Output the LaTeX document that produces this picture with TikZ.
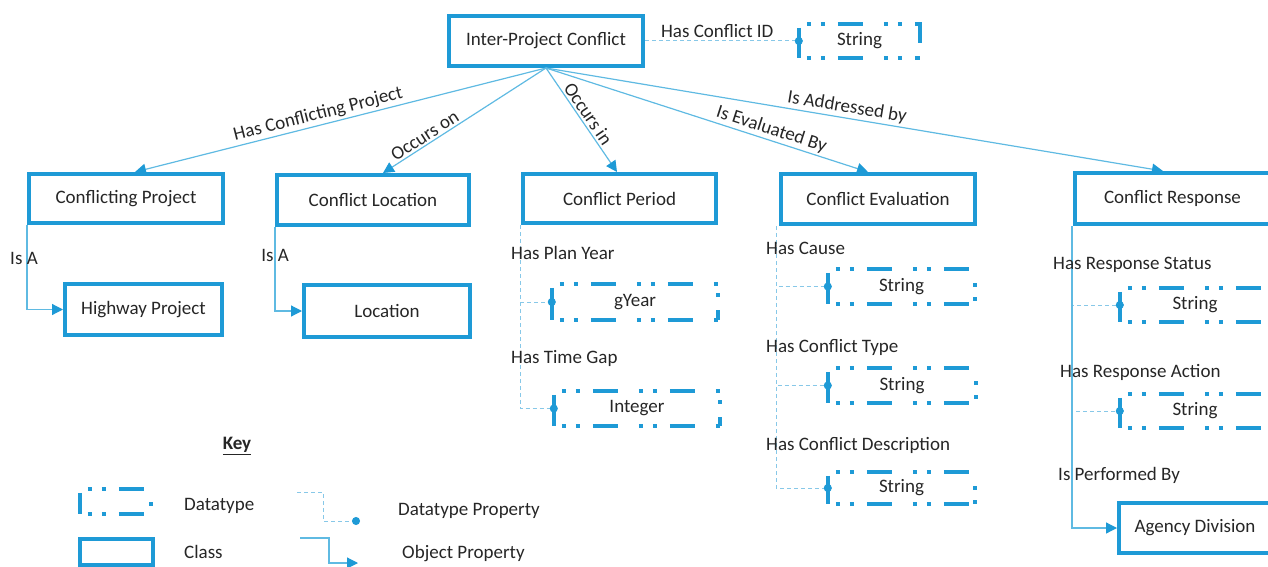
\documentclass[tikz,border=0pt]{standalone}
\usepackage{fontspec}
\setmainfont{Carlito}
\usetikzlibrary{arrows.meta,calc}
\definecolor{ontoblue}{RGB}{30,154,214}
\definecolor{linkblue}{RGB}{95,186,226}
\definecolor{dlinkblue}{RGB}{135,200,232}
\definecolor{inktext}{RGB}{38,38,38}

% dash-dot-dot frame of a datatype node, with the solid bar on its left side
\newcommand\dtframe[1]{%
  \draw[dtdash] ($(#1.north west)+(8,0)$) -- (#1.north east) -- (#1.south east);
  \draw[dtdash] ($(#1.south west)+(8,0)$) -- (#1.south east);
  \draw[dtbar] ($(#1.north west)+(0,4)$) -- (#1.south west);
}

\begin{document}
\begin{tikzpicture}[x=1pt,y=-1pt,
  every node/.style={font=\fontsize{19}{22}\selectfont, text=inktext},
  classbox/.style={draw=ontoblue, line width=4pt, rectangle, inner sep=0pt},
  dtbox/.style={rectangle, inner sep=0pt},
  dtdash/.style={draw=ontoblue, line width=4pt,
    dash pattern=on 4pt off 10pt on 4pt off 13pt on 25pt off 21pt},
  dtbar/.style={draw=ontoblue, line width=4.5pt},
  objprop/.style={draw=linkblue, line width=1.2pt,
    -{Triangle[length=11pt,width=11pt,color=ontoblue]}},
  dprop/.style={draw=dlinkblue, line width=1pt, dash pattern=on 4pt off 3pt,
    -{Circle[length=8pt,color=ontoblue]}, shorten >=-4pt},
  elabel/.style={sloped, above, inner sep=2pt},
  plabel/.style={anchor=west, inner sep=0pt},
]
\useasboundingbox (0,0) rectangle (1268,567);

% ---- classes
\node[classbox, minimum width=194pt, minimum height=50pt] (ipc) at (546,41) {Inter-Project Conflict};
\node[classbox, minimum width=194pt, minimum height=49pt] (cp) at (126,198.5) {Conflicting Project};
\node[classbox, minimum width=192pt, minimum height=50pt] (cl) at (373,200) {Conflict Location};
\node[classbox, minimum width=193pt, minimum height=49pt] (per) at (619.5,198.5) {Conflict Period};
\node[classbox, minimum width=194pt, minimum height=50pt] (eval) at (878,199) {Conflict Evaluation};
\node[classbox, minimum width=195pt, minimum height=51pt] (resp) at (1172.5,198.5) {Conflict Response};
\node[classbox, minimum width=157pt, minimum height=51pt] (hw) at (143.5,309.5) {Highway Project};
\node[classbox, minimum width=166pt, minimum height=52pt] (loc) at (387,311) {Location};
\node[classbox, minimum width=152pt, minimum height=50pt] (agency) at (1195,528) {Agency Division};

% ---- datatypes
\node[dtbox, minimum width=121pt, minimum height=34pt] (s0) at (859.5,41) {String};
\node[dtbox, minimum width=166pt, minimum height=36pt] (gyear) at (635,302) {gYear};
\node[dtbox, minimum width=166pt, minimum height=35pt] (integer) at (637,408.5) {Integer};
\node[dtbox, minimum width=147pt, minimum height=35pt] (cause) at (901.5,286.5) {String};
\node[dtbox, minimum width=148pt, minimum height=35pt] (ctype) at (902,385.5) {String};
\node[dtbox, minimum width=147pt, minimum height=32pt] (cdesc) at (901.5,488) {String};
\node[dtbox, minimum width=150pt, minimum height=34pt] (rstatus) at (1195,305) {String};
\node[dtbox, minimum width=150pt, minimum height=34pt] (raction) at (1195,411) {String};
\foreach \n in {s0,gyear,integer,cause,ctype,cdesc,rstatus,raction}{\dtframe{\n}}

% ---- object properties from the conflict
\draw[objprop] (ipc.south) -- node[elabel, pos=0.548] {Has Conflicting Project} ([xshift=9pt]cp.north);
\draw[objprop] (ipc.south) -- node[elabel, pos=0.715] {Occurs on} ([xshift=10pt]cl.north);
\draw[objprop] (ipc.south) -- node[elabel, pos=0.49] {Occurs in} ([xshift=-2.5pt]per.north);
\draw[objprop] (ipc.south) -- node[elabel, pos=0.69] {Is Evaluated By} ([xshift=-10pt]eval.north);
\draw[objprop] (ipc.south) -- node[elabel, pos=0.485] {Is Addressed by} ([xshift=-9.5pt]resp.north);

% ---- datatype properties
\draw[dprop] (ipc.east) -- node[above, inner sep=3pt, pos=0.47] {Has Conflict ID} (s0.west);
\draw[dprop] ([xshift=-1pt]per.south west) |- (gyear.west);
\draw[dprop] ([xshift=-1pt]per.south west) |- (integer.west);
\draw[dprop] ([xshift=-3pt]eval.south west) |- (cause.west);
\draw[dprop] ([xshift=-3pt]eval.south west) |- (ctype.west);
\draw[dprop] ([xshift=-3pt]eval.south west) |- (cdesc.west);
\draw[dprop] ([xshift=-1pt]resp.south west) |- (rstatus.west);
\draw[dprop] ([xshift=-1pt]resp.south west) |- (raction.west);

% ---- subclass links
\draw[objprop] (cp.south west) |- node[pos=0.2, xshift=-3pt, inner sep=0pt] {Is A} (hw.west);
\draw[objprop] (cl.south west) |- node[pos=0.17, inner sep=0pt] {Is A} (loc.west);
\draw[objprop] ([xshift=-1pt]resp.south west) |- (agency.west);

% ---- property names
\node[plabel] (lpy) at (511,253) {Has Plan Year};
\node[plabel] (ltg) at (511,358) {Has Time Gap};
\node[plabel] (lhc) at (766,248) {Has Cause};
\node[plabel] (lct) at (766,347) {Has Conflict Type};
\node[plabel] (lcd) at (766,445) {Has Conflict Description};
\node[plabel] (lrs) at (1053,265) {Has Response Status};
\node[plabel] (lra) at (1060,372) {Has Response Action};
\node[plabel] (lpb) at (1058,475) {Is Performed By};

% ---- key
\node (key) at (237,446) {\underline{\textbf{Key}}};
\node[dtbox, minimum width=71pt, minimum height=25pt] (kdt) at (115.5,501.5) {};
\dtframe{kdt}
\node[classbox, minimum width=73pt, minimum height=26pt] (kcls) at (116.5,552) {};
\node[plabel] (kdtl) at (184,506) {Datatype};
\node[plabel] (kclsl) at (184,552) {Class};
\coordinate (kdpA) at (297,492);
\coordinate (kdpB) at (356,521);
\draw[dprop] (kdpA) -- ++(26,0) |- (kdpB);
\node[plabel] (kdpl) at (398,511) {Datatype Property};
\coordinate (kopA) at (300,538);
\coordinate (kopB) at (358,563);
\draw[objprop] (kopA) -- ++(29,0) |- (kopB);
\node[plabel] (kopl) at (402,554) {Object Property};
\end{tikzpicture}
\end{document}
